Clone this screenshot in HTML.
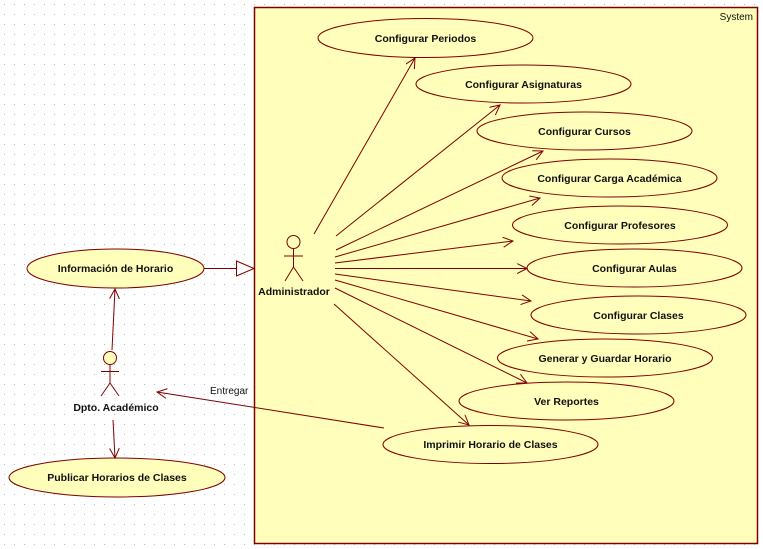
<!DOCTYPE html>
<html><head><meta charset="utf-8"><style>
html,body{margin:0;padding:0;background:#fff}
svg{display:block}
text{font-family:"Liberation Sans","DejaVu Sans",sans-serif;font-size:10.5px;font-weight:bold;fill:#101010}
</style></head><body>
<svg width="763" height="549" viewBox="0 0 763 549" xmlns="http://www.w3.org/2000/svg">
<defs>
<pattern id="dots" width="10" height="10" patternUnits="userSpaceOnUse"><rect x="4" y="4" width="1" height="1" fill="#bbb"/></pattern>
<marker id="a" markerWidth="12" markerHeight="12" refX="10" refY="5" orient="auto" markerUnits="userSpaceOnUse"><path d="M0,0 L10,5 L0,10" fill="none" stroke="#800000" stroke-width="1"/></marker>
</defs>
<rect width="763" height="549" fill="url(#dots)"/>
<rect x="254.5" y="7.5" width="503" height="536" fill="#FFFFBB" stroke="#800000" stroke-width="1.5"/>
<text x="753" y="20" text-anchor="end" style="font-weight:normal;font-size:10px">System</text>
<g fill="#FFFFBB" stroke="#800000" stroke-width="1">
<ellipse cx="425.5" cy="38" rx="107.5" ry="19.5"/>
<ellipse cx="523.5" cy="84" rx="107.5" ry="19"/>
<ellipse cx="584.5" cy="131" rx="107.5" ry="19"/>
<ellipse cx="609.5" cy="178" rx="107.5" ry="19"/>
<ellipse cx="620" cy="225" rx="107.5" ry="19"/>
<ellipse cx="634.5" cy="268" rx="107.5" ry="19"/>
<ellipse cx="638.5" cy="315" rx="107.5" ry="19"/>
<ellipse cx="605" cy="358" rx="107.5" ry="19"/>
<ellipse cx="566.5" cy="401" rx="107.5" ry="19"/>
<ellipse cx="490.5" cy="444.5" rx="107.5" ry="19"/>
<ellipse cx="115.5" cy="268.5" rx="88.5" ry="19.5"/>
<ellipse cx="117" cy="477.5" rx="108" ry="19.5"/>
</g>
<g stroke="#800000" stroke-width="1" fill="none" marker-end="url(#a)">
<line x1="314" y1="234" x2="415" y2="58"/>
<line x1="336" y1="236" x2="500" y2="105"/>
<line x1="336" y1="250" x2="543" y2="151"/>
<line x1="335" y1="257" x2="540" y2="198"/>
<line x1="335" y1="263" x2="513" y2="241"/>
<line x1="335" y1="268.5" x2="527" y2="268.5"/>
<line x1="335" y1="274" x2="531" y2="301"/>
<line x1="335" y1="280" x2="538" y2="339"/>
<line x1="335" y1="288" x2="527" y2="383"/>
<line x1="334" y1="304" x2="469" y2="425"/>
<line x1="384" y1="428" x2="157" y2="392"/>
<line x1="112" y1="350" x2="115" y2="289"/>
<line x1="113" y1="420" x2="115" y2="458"/>
</g>
<line x1="204" y1="268.5" x2="236" y2="268.5" stroke="#800000"/>
<path d="M236.5,261 L254,268.5 L236.5,276 Z" fill="#fff" stroke="#800000"/>
<g stroke="#800000" stroke-width="1" fill="none">
<circle cx="293.5" cy="242" r="6.5"/>
<line x1="293.5" y1="248.5" x2="293.5" y2="267"/><line x1="284" y1="256" x2="303" y2="256"/>
<line x1="293.5" y1="267" x2="285" y2="281"/><line x1="293.5" y1="267" x2="303" y2="281"/>
<circle cx="110" cy="358" r="6.5" fill="#FFFFBB"/>
<line x1="110" y1="364.5" x2="110" y2="383"/><line x1="101" y1="371.5" x2="119" y2="371.5"/>
<line x1="110" y1="383" x2="101" y2="396"/><line x1="110" y1="383" x2="119" y2="396"/>
</g>
<text x="425.5" y="42" text-anchor="middle">Configurar Periodos</text>
<text x="523.5" y="88" text-anchor="middle">Configurar Asignaturas</text>
<text x="584.5" y="135" text-anchor="middle">Configurar Cursos</text>
<text x="609.5" y="182" text-anchor="middle">Configurar Carga Académica</text>
<text x="620" y="229" text-anchor="middle">Configurar Profesores</text>
<text x="634.5" y="272" text-anchor="middle">Configurar Aulas</text>
<text x="638.5" y="319" text-anchor="middle">Configurar Clases</text>
<text x="605" y="362" text-anchor="middle">Generar y Guardar Horario</text>
<text x="566.5" y="405" text-anchor="middle">Ver Reportes</text>
<text x="490.5" y="448" text-anchor="middle">Imprimir Horario de Clases</text>
<text x="115.5" y="272" text-anchor="middle">Información de Horario</text>
<text x="117" y="481" text-anchor="middle">Publicar Horarios de Clases</text>
<text x="294" y="295" text-anchor="middle">Administrador</text>
<text x="116" y="411" text-anchor="middle">Dpto. Académico</text>
<text x="210" y="394" style="font-weight:normal;font-size:10px">Entregar</text>
</svg>
</body></html>
